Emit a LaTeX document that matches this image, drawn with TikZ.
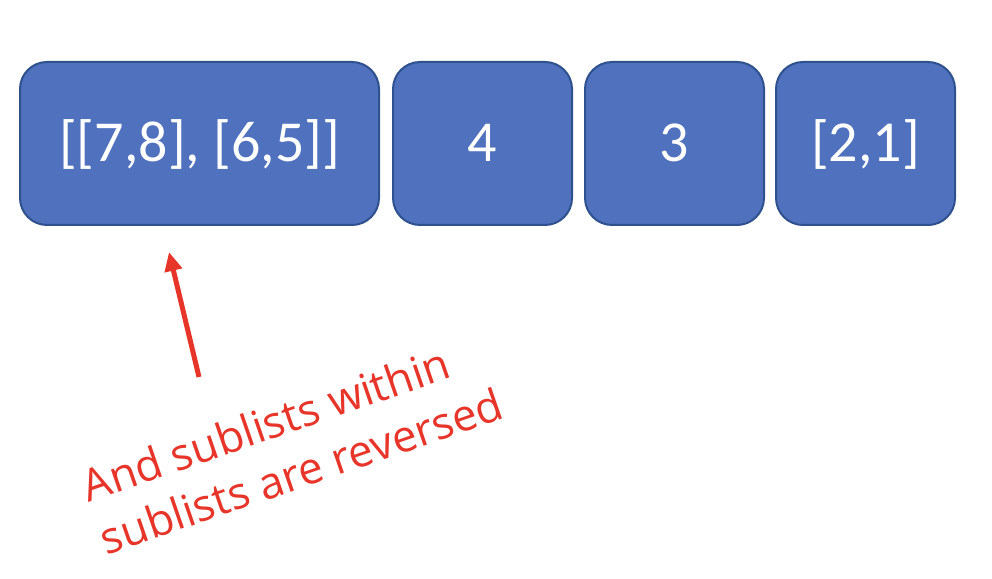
\documentclass[tikz,border=0pt]{standalone}
\usepackage{fontspec}
\newfontfamily\boxfont{Carlito}
\newfontfamily\notefont{Open Sans}
\usetikzlibrary{arrows.meta}
\definecolor{boxfill}{HTML}{4F71BE}
\definecolor{boxline}{HTML}{2F528F}
\definecolor{notered}{HTML}{E8352A}
\begin{document}
\begin{tikzpicture}[x=1pt,y=1pt,
  listbox/.style={draw=boxline, line width=2pt, fill=boxfill, rounded corners=27pt,
    minimum height=163pt, inner sep=0pt, text=white,
    font=\boxfont\fontsize{58}{64}\selectfont, text height=37pt, text depth=0pt},
  notetext/.style={text=notered, font=\notefont\fontsize{44}{56}\selectfont,
    align=left, inner sep=0pt, rotate=19},
  notearrow/.style={draw=notered, line width=5pt,
    -{Triangle[length=19pt,width=17pt]}}]
\useasboundingbox (0,0) rectangle (992,578);
\node[listbox, minimum width=359pt] (b1) at (199.5,434.5) {[[7,8], [6,5]]};
\node[listbox, minimum width=179pt] (b2) at (482.5,434.5) {4};
\node[listbox, minimum width=179pt] (b3) at (674.5,434.5) {3};
\node[listbox, minimum width=179pt] (b4) at (865.5,434.5) {[2,1]};
\node[notetext, anchor=south west] (note) at (107,22) {And sublists within\\sublists are reversed};
\coordinate (tail) at (199,201);
\coordinate (tip) at (169,326);
\draw[notearrow] (tail) -- (tip);
\end{tikzpicture}
\end{document}
